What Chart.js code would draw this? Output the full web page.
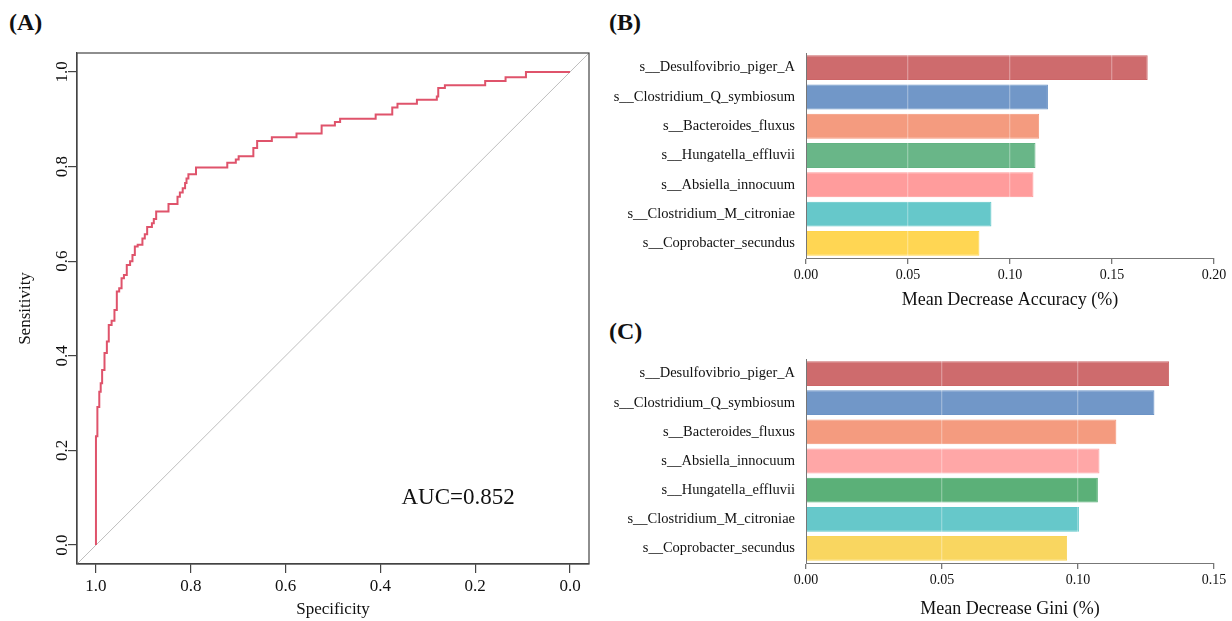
<!DOCTYPE html>
<html>
<head>
<meta charset="utf-8">
<script src="https://cdn.jsdelivr.net/npm/chart.js@4.4.1/dist/chart.umd.min.js"></script>
<style>
  html, body { margin: 0; padding: 0; background: #fff; }
  body { width: 1232px; height: 621px; position: relative; overflow: hidden; }
  canvas { position: absolute; }
  .tag { position: absolute; font: bold 24px 'Liberation Serif', serif; color: #111; line-height: 1; }
</style>
</head>
<body>
<div class="tag" style="left:9px;top:10px">(A)</div>
<div class="tag" style="left:609px;top:10px">(B)</div>
<div class="tag" style="left:609px;top:319px">(C)</div>
<canvas id="roc" width="600" height="621" style="left:0;top:0"></canvas>
<canvas id="acc" width="632" height="318" style="left:600px;top:0"></canvas>
<canvas id="gini" width="632" height="311" style="left:600px;top:310px"></canvas>
<script>
// ROC curve corners (specificity, sensitivity)
const rocSpecificity = [1.000, 1.000, 0.997, 0.993, 0.990, 0.987, 0.982, 0.977, 0.973, 0.967,
    0.961, 0.956, 0.951, 0.946, 0.941, 0.935, 0.928, 0.923, 0.918, 0.912,
    0.902, 0.897, 0.892, 0.882, 0.878, 0.873, 0.847, 0.828, 0.823, 0.817,
    0.812, 0.809, 0.805, 0.789, 0.723, 0.705, 0.699, 0.668, 0.660, 0.629,
    0.577, 0.524, 0.496, 0.485, 0.410, 0.375, 0.364, 0.323, 0.281, 0.278,
    0.264, 0.179, 0.136, 0.093, 0.000];
const rocSensitivity = [0.000, 0.230, 0.292, 0.324, 0.342, 0.370, 0.406, 0.430, 0.465, 0.474,
    0.497, 0.536, 0.543, 0.564, 0.571, 0.592, 0.600, 0.613, 0.631, 0.635,
    0.648, 0.657, 0.672, 0.680, 0.689, 0.705, 0.721, 0.736, 0.745, 0.754,
    0.765, 0.775, 0.784, 0.798, 0.808, 0.815, 0.822, 0.839, 0.854, 0.862,
    0.870, 0.887, 0.894, 0.901, 0.910, 0.925, 0.933, 0.941, 0.948, 0.966,
    0.972, 0.981, 0.989, 1.000, 1.000];
// chance line, corner to corner of the plot box
const diagSpecificity = [1.04, -0.04];
const diagSensitivity = [-0.04, 1.04];
const rocTicks = [0, 0.2, 0.4, 0.6, 0.8, 1.0];
const aucText = 'AUC=0.852';
const aucAt = [0.236, 0.10];

// (B) Mean Decrease Accuracy
const accTaxa = ['s__Desulfovibrio_piger_A', 's__Clostridium_Q_symbiosum', 's__Bacteroides_fluxus',
    's__Hungatella_effluvii', 's__Absiella_innocuum', 's__Clostridium_M_citroniae', 's__Coprobacter_secundus'];
const accValues = [0.1675, 0.1186, 0.1143, 0.1125, 0.1115, 0.0909, 0.0850];
const accColors = ['#CC6567', '#6B93C6', '#F4977A', '#63B383', '#FF9898', '#60C6C8', '#FFD44C'];
const accTicks = [0, 0.05, 0.10, 0.15, 0.20];

// (C) Mean Decrease Gini
const giniTaxa = ['s__Desulfovibrio_piger_A', 's__Clostridium_Q_symbiosum', 's__Bacteroides_fluxus',
    's__Absiella_innocuum', 's__Hungatella_effluvii', 's__Clostridium_M_citroniae', 's__Coprobacter_secundus'];
const giniValues = [0.1335, 0.1281, 0.1141, 0.1079, 0.1073, 0.1004, 0.0960];
const giniColors = ['#CC6567', '#6B93C6', '#F4977A', '#FFA3A3', '#54AD73', '#60C6C8', '#F9D45A'];
const giniTicks = [0, 0.05, 0.10, 0.15];

const SERIF = "'Liberation Serif', 'Times New Roman', serif";
Chart.defaults.font.family = SERIF;
Chart.defaults.color = '#111';

const boxPlugin = {
    id: 'box',
    afterDatasetsDraw(chart) {
        const { ctx, chartArea: a } = chart;
        ctx.save();
        ctx.strokeStyle = '#444';
        ctx.lineWidth = 1.2;
        ctx.strokeRect(a.left, a.top, a.right - a.left, a.bottom - a.top);
        ctx.restore();
    }
};

const aucPlugin = {
    id: 'auc',
    afterDatasetsDraw(chart) {
        const { ctx, scales } = chart;
        ctx.save();
        ctx.font = '23px ' + SERIF;
        ctx.fillStyle = '#111';
        ctx.textAlign = 'center';
        ctx.textBaseline = 'middle';
        ctx.fillText(aucText, scales.x.getPixelForValue(aucAt[0]), scales.y.getPixelForValue(aucAt[1]));
        ctx.restore();
    }
};

function pts(xs, ys) {
    return xs.map((x, i) => ({ x: x, y: ys[i] }));
}

const rocAxis = {
    type: 'linear',
    min: -0.04,
    max: 1.04,
    afterBuildTicks: s => { s.ticks = rocTicks.map(v => ({ value: v })); },
    grid: { drawOnChartArea: false, tickLength: 9, tickColor: '#444', lineWidth: 1.2 },
    border: { display: true, color: '#444', width: 1.2 }
};

new Chart(document.getElementById('roc'), {
    type: 'line',
    data: {
        datasets: [{
            data: pts(rocSpecificity, rocSensitivity),
            borderColor: '#DF536B',
            borderWidth: 2,
            pointRadius: 0,
            stepped: 'before',
            fill: false
        }, {
            data: pts(diagSpecificity, diagSensitivity),
            borderColor: '#BEBEBE',
            borderWidth: 1,
            pointRadius: 0,
            fill: false
        }]
    },
    options: {
        responsive: false,
        animation: false,
        devicePixelRatio: 1,
        layout: { padding: { top: 53, right: 11, left: 0, bottom: 0 } },
        plugins: { legend: { display: false }, tooltip: { enabled: false } },
        scales: {
            x: {
                ...rocAxis,
                reverse: true,
                afterFit: s => { s.height = 57; },
                ticks: { callback: v => v.toFixed(1), font: { size: 17 }, padding: 3, maxRotation: 0, autoSkip: false },
                title: { display: true, text: 'Specificity', font: { size: 17 }, padding: { top: 0, bottom: 1 } }
            },
            y: {
                ...rocAxis,
                afterFit: s => { s.width = 77; },
                ticks: { callback: v => v.toFixed(1), font: { size: 17 }, minRotation: 90, maxRotation: 90,
                         crossAlign: 'center', padding: -5, autoSkip: false },
                title: { display: true, text: 'Sensitivity', font: { size: 17 }, padding: { top: 15, bottom: 0 } }
            }
        }
    },
    plugins: [boxPlugin, aucPlugin]
});

function importanceChart(id, taxa, values, colors, ticks, maxV, title, area) {
    new Chart(document.getElementById(id), {
        type: 'bar',
        data: {
            labels: taxa,
            datasets: [{
                data: values,
                backgroundColor: colors.map(c => c + 'F5'),
                borderColor: colors,
                borderWidth: 1,
                barPercentage: 0.85,
                categoryPercentage: 1
            }]
        },
        options: {
            indexAxis: 'y',
            responsive: false,
            animation: false,
            devicePixelRatio: 1,
            layout: { padding: { top: area.top, right: area.right, left: 0, bottom: 0 } },
            plugins: { legend: { display: false }, tooltip: { enabled: false } },
            scales: {
                x: {
                    type: 'linear',
                    min: 0,
                    max: maxV,
                    afterBuildTicks: s => { s.ticks = ticks.map(v => ({ value: v })); },
                    afterFit: s => { s.height = area.xh; },
                    grid: {
                        z: 1,
                        color: c => (c.tick && c.tick.value > 0 ? 'rgba(255,255,255,0.3)' : 'rgba(0,0,0,0)'),
                        tickColor: '#777',
                        tickLength: 6,
                        lineWidth: 1.3
                    },
                    border: { display: true, color: '#777', width: 1, z: 2 },
                    ticks: { callback: v => v.toFixed(2), font: { size: 14 }, padding: 3, maxRotation: 0, autoSkip: false },
                    title: { display: true, text: title, font: { size: 18 }, padding: { top: 0, bottom: area.tb } }
                },
                y: {
                    afterFit: s => { s.width = area.left; },
                    grid: { display: false, drawTicks: false },
                    border: { display: true, color: '#777', width: 1, z: 2 },
                    ticks: { font: { size: 14.5 }, padding: 11 }
                }
            }
        }
    });
}

importanceChart('acc', accTaxa, accValues, accColors, accTicks, 0.20, 'Mean Decrease Accuracy (%)',
    { top: 53, right: 18, left: 206, xh: 60, tb: 7 });
importanceChart('gini', giniTaxa, giniValues, giniColors, giniTicks, 0.15, 'Mean Decrease Gini (%)',
    { top: 49, right: 18, left: 206, xh: 58, tb: 1 });
</script>
</body>
</html>
